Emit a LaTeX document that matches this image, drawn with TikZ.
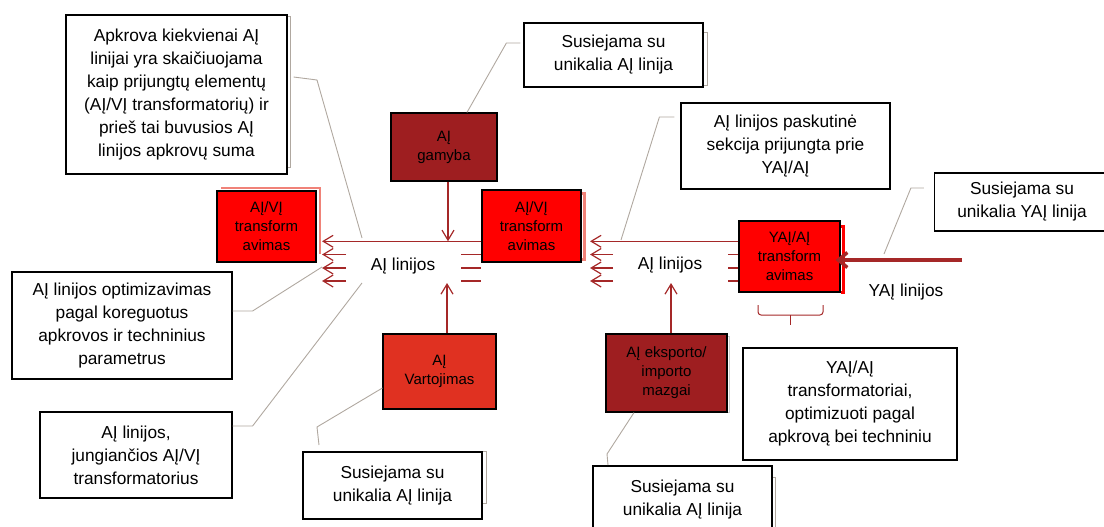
\documentclass[tikz,border=0pt]{standalone}
\usepackage{fontspec}
\setmainfont{Liberation Sans}
\usetikzlibrary{arrows.meta,positioning}
\definecolor{busred}{RGB}{165,40,40}
\definecolor{boxdark}{RGB}{158,30,32}
\definecolor{boxorange}{RGB}{224,49,33}
\definecolor{boxred}{RGB}{255,0,0}
\definecolor{shadered}{RGB}{240,130,120}
\definecolor{leadgray}{RGB}{176,168,160}
\pgfdeclarelayer{background}
\pgfsetlayers{background,main}
\tikzset{note/.style={draw=black,line width=1.2pt,fill=white,inner sep=0pt,align=center,font=\fontsize{17.3}{23}\selectfont},
  unit/.style={draw=black,line width=1.2pt,inner sep=0pt,align=center,font=\fontsize{15}{19}\selectfont},
  lbl/.style={inner sep=0pt,font=\fontsize{17.3}{23}\selectfont},
  bus/.style={draw=busred,line width=1.2pt},
  feed/.style={bus,-{Straight Barb[length=10pt,width=12pt]}},
  lead/.style={draw=leadgray,line width=0.9pt}}
\newcommand{\sideshade}[5]{\draw[#5] ([yshift=-#3]#1.north east) -- ++(#2,0) |- ([yshift=#4]#1.south east);}

\begin{document}
\begin{tikzpicture}[x=1pt,y=-1pt]
    \useasboundingbox (0,0) rectangle (1104,527);

    \node[note,minimum width=221pt,minimum height=159pt] (load)at (176.5,94.5) {Apkrova kiekvienai AĮ\\linijai yra skaičiuojama\\kaip prijungtų elementų\\(AĮ/VĮ transformatorių) ir\\prieš tai buvusios AĮ\\linijos apkrovų suma};
    \node[note,minimum width=179pt,minimum height=64pt] (tie1)at (613.5,55) {Susiejama su\\unikalia AĮ linija};
    \node[note,minimum width=209pt,minimum height=86pt] (last)at (785.5,146) {AĮ linijos paskutinė\\sekcija prijungta prie\\YAĮ/AĮ};
    \node[note,minimum width=175pt,minimum height=58pt] (tieY)at (1022,202) {Susiejama su\\unikalia YAĮ linija};
    \node[note,minimum width=220pt,minimum height=107pt] (optim)at (122,325.5) {AĮ linijos optimizavimas\\pagal koreguotus\\apkrovos ir techninius\\parametrus};
    \node[note,minimum width=192pt,minimum height=86pt] (join)at (136,455) {AĮ linijos,\\jungiančios AĮ/VĮ\\transformatorius};
    \node[note,minimum width=179pt,minimum height=67pt] (tie2)at (392.5,485.5) {Susiejama su\\unikalia AĮ linija};
    \node[note,minimum width=179pt,minimum height=67pt] (tie3)at (682.5,499.5) {Susiejama su\\unikalia AĮ linija};
    \node[note,minimum width=214pt,minimum height=112pt] (xfnote)at (850,404) {YAĮ/AĮ\\transformatoriai,\\optimizuoti pagal\\apkrovą bei techniniu};

    \node[unit,fill=boxdark,minimum width=106pt,minimum height=68pt] (gen)at (444,147) {AĮ\\gamyba};
    \node[unit,fill=boxred,minimum width=99pt,minimum height=71pt] (xfL)at (266.5,226.5) {AĮ/VĮ\\transform\\avimas};
    \node[unit,fill=boxred,minimum width=99pt,minimum height=72pt] (xfM)at (531.5,226) {AĮ/VĮ\\transform\\avimas};
    \node[unit,fill=boxred,minimum width=101pt,minimum height=71pt] (xfY)at (789.5,256.5) {YAĮ/AĮ\\transform\\avimas};
    \node[unit,fill=boxorange,minimum width=113pt,minimum height=75pt] (use)at (439.5,371.5) {AĮ\\Vartojimas};
    \node[unit,fill=boxdark,minimum width=121pt,minimum height=78pt] (port)at (666.5,373) {AĮ eksporto/\\importo\\mazgai};

    \node[lbl] (busL)at (403,266.5) {AĮ linijos};
    \node[lbl] (busM)at (670,265.5) {AĮ linijos};
    \node[lbl] (hvlbl)at (906,292) {YAĮ linijos};

    \begin{pgfonlayer}{background}
    \sideshade{load}{2.5}{2pt}{7pt}{leadgray,line width=0.9pt}
    \sideshade{tie1}{4}{10pt}{2pt}{leadgray,line width=0.9pt}
    \sideshade{tie2}{4}{0pt}{16pt}{leadgray,line width=0.9pt}
    \sideshade{tie3}{3}{12pt}{0pt}{leadgray,line width=0.9pt}
    \sideshade{port}{2}{3pt}{0pt}{gray!40,line width=1pt}
    \sideshade{xfM}{3}{4pt}{3pt}{shadered,line width=2.5pt}
    \sideshade{xfY}{3}{6pt}{0pt}{boxred,line width=2.5pt}
    \draw[shadered,line width=2pt] ([xshift=5pt,yshift=2pt]xfL.north west) -| ([xshift=3pt,yshift=9pt]xfL.south east);
    \end{pgfonlayer}

    \coordinate (tipL) at (322,241.3);
    \coordinate (tipM) at (590,241.3);
    \draw[feed] (xfM.west |- tipL) -- (tipL);
    \draw[feed] (xfY.west |- tipM) -- (tipM);
    \foreach \yy [count=\i] in {254.5,268,281}{
        \coordinate (aL\i) at (346,\yy);
        \coordinate (bL\i) at (322,\yy);
        \coordinate (cL\i) at (461,\yy);
        \coordinate (aM\i) at (613,\yy);
        \coordinate (bM\i) at (590,\yy);
        \coordinate (cM\i) at (728,\yy);
        \draw[feed] (aL\i) -- (bL\i);
        \draw[bus] (cL\i) -- (xfM.west |- cL\i);
        \draw[feed] (aM\i) -- (bM\i);
        \draw[bus] (cM\i) -- (xfY.west |- cM\i);
    }

    \coordinate (dropL) at (448,241.3);
    \coordinate (upL) at (447,283);
    \coordinate (upM) at (671,283);
    \draw[feed] (gen.south -| dropL) -- (dropL);
    \draw[feed] (use.north -| upL) -- (upL);
    \draw[feed] (port.north -| upM) -- (upM);

    \coordinate (hvin) at (962,260);
    \draw[draw=busred,line width=3.5pt,shorten >=-5pt,-{Straight Barb[length=9pt,width=15pt]}] (hvin) -- (xfY.east |- hvin);

    \draw[busred,line width=1pt,rounded corners=3pt] (758,305) |- (823,315) -- (823,305);
    \draw[busred,line width=1.5pt] (790.5,315) -- (790.5,325);

    \coordinate (pA) at (362,238);
    \coordinate (pB) at (322,267);
    \coordinate (pC) at (362,283);
    \coordinate (pD) at (319,445);
    \coordinate (pE) at (621,240);
    \coordinate (pF) at (884,254);
    \coordinate (pG) at (608,465);
    \draw[lead] ([xshift=6pt,yshift=17.5pt]load.east) -- (317,80) -- (pA);
    \draw[lead] ([xshift=-3pt,yshift=12pt]tie1.west) -- ++(-14,0) -- ([xshift=23pt]gen.north);
    \draw[lead] ([yshift=14.5pt]optim.east) -- ++(20,0) -- (pB);
    \draw[lead] ([yshift=29pt]join.east) -- ++(20,0) -- (pC);
    \draw[lead] ([yshift=-16.5pt]use.west) -- (317,427) -- (pD);
    \draw[lead] ([xshift=-6pt,yshift=29pt]last.west) -- ++(-15,0) -- (pE);
    \draw[lead] ([xshift=-10pt,yshift=14pt]tieY.west) -- ++(-13,0) -- (pF);
    \draw[lead] ([xshift=-32.5pt]port.south) -- (607,454) -- (pG);
\end{tikzpicture}
\end{document}
